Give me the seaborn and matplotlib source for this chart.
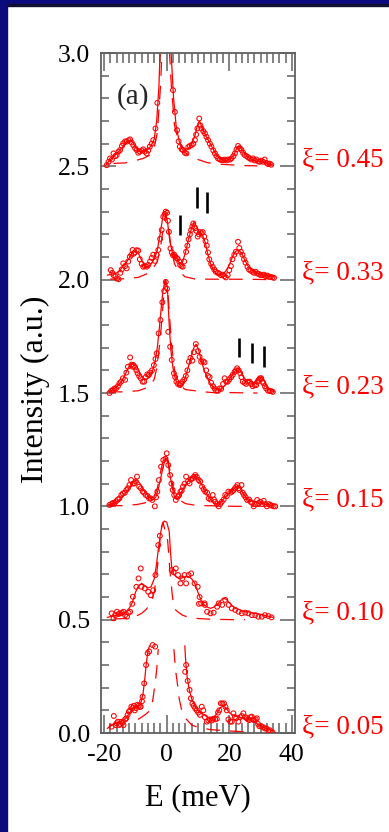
import numpy as np
import pandas as pd
import matplotlib
matplotlib.use("Agg")
import matplotlib.pyplot as plt
from matplotlib.patches import Rectangle
from matplotlib.ticker import MultipleLocator, FormatStrFormatter
import seaborn as sns

# ---------------- data ----------------
xi_labels = ["0.45", "0.33", "0.23", "0.15", "0.10", "0.05"]
offsets = [2.5, 2.0, 1.5, 1.0, 0.5, 0.0]

# xi = 0.45
E_pts_045 = [-19.2, -18.6, -18.1, -17.5, -17.0, -16.4, -16.0, -15.4, -14.9, -14.3, -13.9, -13.3, -12.8, -12.2,
             -11.7, -11.2, -10.7, -10.1, -9.6, -9.1, -8.6, -8.0, -7.5, -7.0, -6.4, -5.9, -5.4, -4.8, -4.3, -3.6,
             -3.0, 2.0, 2.6, 3.3, 3.8, 4.2, 4.8, 5.2, 5.8, 6.3, 6.9, 7.4, 8.0, 8.5, 9.0, 9.4, 9.8, 10.4, 10.8,
             11.1, 11.7, 12.2, 12.7, 13.2, 13.8, 14.3, 14.9, 15.4, 15.9, 16.4, 17.0, 17.5, 18.0, 18.5, 19.1, 19.6,
             20.2, 20.7, 21.3, 21.8, 22.3, 22.8, 23.4, 23.9, 24.4, 24.9, 25.5, 26.0, 26.5, 27.1, 27.6, 28.1, 28.7,
             29.2, 29.7, 30.3, 30.8, 31.3, 31.9, 32.4, 32.9, 33.4]
I_pts_045 = [2.505, 2.52, 2.535, 2.53, 2.557, 2.545, 2.55, 2.565, 2.572, 2.59, 2.601, 2.61, 2.609, 2.615,
             2.619, 2.605, 2.594, 2.58, 2.572, 2.56, 2.565, 2.57, 2.575, 2.565, 2.557, 2.57, 2.587, 2.60, 2.616,
             2.667, 2.78, 2.836, 2.74, 2.66, 2.61, 2.587, 2.575, 2.572, 2.56, 2.557, 2.585, 2.59, 2.594, 2.60,
             2.616, 2.64, 2.667, 2.711, 2.68, 2.667, 2.655, 2.645, 2.63, 2.616, 2.60, 2.587, 2.57, 2.557, 2.545,
             2.535, 2.53, 2.528, 2.527, 2.53, 2.526, 2.53, 2.53, 2.535, 2.545, 2.557, 2.575, 2.59, 2.58, 2.572,
             2.56, 2.55, 2.545, 2.54, 2.535, 2.53, 2.535, 2.526, 2.53, 2.522, 2.52, 2.525, 2.52, 2.53, 2.515,
             2.51, 2.512, 2.507]
E_fit_045 = [-19.5, -18.0, -16.5, -15.0, -13.5, -12.0, -11.0, -10.0, -9.0, -8.0, -7.0, -6.0, -5.0, -4.0, -3.2,
             -2.5, -2.0, -0.5, 1.2, 1.6, 2.2, 3.0, 4.0, 5.0, 6.0, 7.0, 8.0, 9.0, 10.0, 10.5, 11.5, 12.5, 13.5,
             14.5, 15.5, 16.5, 17.5, 19.0, 20.5, 21.5, 22.5, 23.0, 24.0, 25.0, 26.5, 28.0, 29.5, 31.0, 32.5, 34.0]
I_fit_045 = [2.505, 2.53, 2.55, 2.57, 2.595, 2.615, 2.61, 2.585, 2.57, 2.565, 2.57, 2.575, 2.59, 2.62, 2.70,
             2.85, 3.05, 3.4, 3.05, 2.95, 2.80, 2.68, 2.61, 2.585, 2.575, 2.58, 2.60, 2.635, 2.69, 2.70, 2.665,
             2.635, 2.61, 2.585, 2.56, 2.54, 2.53, 2.525, 2.535, 2.55, 2.585, 2.59, 2.575, 2.555, 2.535, 2.525,
             2.52, 2.52, 2.51, 2.505]
E_dash_045 = [-17.0, -13.3, -10.1, -7.5, -5.3, -4.0, -3.0, -2.0, -1.2, 0.5, 1.5, 2.5, 4.0, 5.5, 7.4, 10.0,
              12.8, 16.0, 20.0, 25.0, 29.0]
I_dash_045 = [2.513, 2.515, 2.525, 2.535, 2.55, 2.58, 2.65, 2.85, 3.1, 3.1, 2.85, 2.68, 2.60, 2.565, 2.545,
              2.53, 2.517, 2.51, 2.507, 2.503, 2.502]

# xi = 0.33
E_pts_033 = [-17.9, -17.4, -17.0, -16.4, -15.9, -15.4, -14.8, -14.4, -13.9, -13.3, -12.8, -12.3, -11.8, -11.3,
             -10.9, -10.5, -10.2, -9.6, -9.1, -8.6, -8.0, -7.5, -7.0, -6.4, -5.9, -5.3, -4.8, -4.3, -3.8, -3.2,
             -2.7, -2.1, -1.6, -1.1, -0.6, -0.3, 0.1, 0.4, 0.7, 1.2, 1.6, 2.0, 2.4, 2.8, 3.2, 3.5, 4.0, 4.3, 4.7,
             5.1, 5.6, 6.2, 6.6, 7.0, 7.4, 7.8, 8.2, 8.5, 9.1, 9.5, 9.9, 10.3, 10.6, 11.1, 11.5, 12.0, 12.4, 12.8,
             13.2, 13.6, 14.2, 14.7, 15.2, 15.7, 16.3, 16.8, 17.3, 17.9, 18.4, 18.9, 19.5, 20.0, 20.5, 21.0,
             21.6, 22.1, 22.8, 23.2, 23.7, 24.2, 24.7, 25.2, 25.8, 26.3, 26.8, 27.4, 27.9, 28.4, 29.0, 29.5,
             30.0, 30.6, 31.1, 31.6, 32.2, 32.7, 33.2, 33.8, 34.3]
I_pts_033 = [2.042, 2.03, 2.020, 2.015, 2.005, 2.002, 2.03, 2.045, 2.072, 2.06, 2.050, 2.08, 2.101, 2.11,
             2.131, 2.115, 2.12, 2.13, 2.128, 2.09, 2.07, 2.057, 2.06, 2.057, 2.065, 2.08, 2.096, 2.11, 2.083,
             2.11, 2.131, 2.18, 2.219, 2.278, 2.29, 2.30, 2.295, 2.26, 2.211, 2.138, 2.12, 2.108, 2.11, 2.101,
             2.095, 2.092, 2.08, 2.065, 2.06, 2.057, 2.08, 2.123, 2.15, 2.178, 2.20, 2.219, 2.235, 2.248, 2.227,
             2.215, 2.19, 2.20, 2.21, 2.205, 2.21, 2.19, 2.17, 2.15, 2.12, 2.09, 2.07, 2.057, 2.045, 2.035, 2.03,
             2.027, 2.02, 2.022, 2.015, 2.01, 2.02, 2.042, 2.06, 2.09, 2.11, 2.123, 2.167, 2.14, 2.123, 2.11,
             2.09, 2.075, 2.057, 2.045, 2.04, 2.035, 2.03, 2.035, 2.027, 2.025, 2.02, 2.02, 2.022, 2.015, 2.018,
             2.012, 2.012, 2.01, 2.008]
E_fit_033 = [-19.0, -17.5, -16.0, -15.0, -14.0, -13.0, -12.0, -11.0, -10.0, -9.0, -8.0, -7.0, -6.0, -5.0,
             -4.0, -3.0, -2.0, -1.2, -0.4, 0.3, 1.0, 1.8, 2.6, 3.4, 4.2, 5.0, 6.0, 7.0, 8.0, 8.7, 9.5, 10.5,
             11.5, 12.3, 13.0, 14.0, 15.0, 16.0, 17.0, 18.0, 19.0, 20.0, 21.0, 22.0, 23.0, 24.0, 25.0, 26.0,
             27.0, 28.5, 30.0, 31.5, 33.0, 34.5]
I_fit_033 = [2.02, 2.025, 2.03, 2.04, 2.06, 2.075, 2.095, 2.12, 2.125, 2.115, 2.085, 2.06, 2.055, 2.07, 2.09,
             2.13, 2.21, 2.28, 2.295, 2.25, 2.17, 2.12, 2.105, 2.09, 2.07, 2.075, 2.12, 2.18, 2.23, 2.255,
             2.235, 2.205, 2.195, 2.165, 2.12, 2.07, 2.04, 2.025, 2.02, 2.025, 2.04, 2.065, 2.10, 2.125, 2.13,
             2.115, 2.085, 2.06, 2.045, 2.03, 2.025, 2.02, 2.015, 2.012]
E_dash_033 = [-18.0, -14.5, -9.1, -6.5, -4.8, -3.0, -2.0, -1.0, -0.3, 0.5, 1.5, 2.5, 3.5, 5.8, 9.0, 14.0,
              20.0, 30.0, 33.0]
I_dash_033 = [2.003, 2.003, 2.01, 2.025, 2.04, 2.08, 2.14, 2.24, 2.29, 2.24, 2.13, 2.07, 2.045, 2.013, 2.003,
              2.002, 2.002, 2.001, 2.0]

# xi = 0.23
E_pts_023 = [-18.3, -17.7, -17.2, -16.7, -16.2, -15.6, -15.1, -14.6, -14.0, -13.3, -12.9, -12.4, -11.7, -11.3,
             -10.9, -10.5, -10.1, -9.7, -9.3, -8.8, -8.3, -7.7, -7.2, -6.7, -6.2, -5.7, -5.3, -4.7, -4.1, -3.6,
             -3.2, -2.6, -2.0, -1.4, -0.8, -0.3, 0.1, 0.5, 1.1, 1.6, 2.3, 2.7, 3.1, 3.6, 4.2, 4.6, 5.0, 5.6, 6.1,
             6.6, 7.1, 7.6, 8.2, 8.7, 9.3, 10.0, 10.5, 11.0, 11.6, 12.1, 12.6, 13.2, 13.7, 14.2, 14.8, 15.3,
             15.8, 16.4, 16.9, 17.4, 18.0, 18.5, 19.0, 19.5, 20.0, 20.6, 21.1, 21.7, 22.1, 22.5, 23.0, 23.5,
             23.9, 24.3, 24.9, 25.4, 25.9, 26.5, 27.0, 27.5, 28.1, 28.6, 29.0, 29.4, 29.8, 30.2, 30.6, 30.9,
             31.4, 31.8, 32.4, 32.9, 33.4, 33.9]
I_pts_023 = [1.50, 1.51, 1.513, 1.52, 1.52, 1.53, 1.543, 1.55, 1.565, 1.558, 1.59, 1.616, 1.657, 1.625, 1.616,
             1.62, 1.613, 1.60, 1.587, 1.575, 1.565, 1.55, 1.55, 1.57, 1.582, 1.58, 1.59, 1.60, 1.623, 1.65,
             1.675, 1.763, 1.822, 1.90, 1.95, 1.99, 1.96, 1.77, 1.704, 1.646, 1.587, 1.57, 1.55, 1.54, 1.535,
             1.54, 1.55, 1.56, 1.575, 1.60, 1.638, 1.655, 1.643, 1.68, 1.716, 1.685, 1.66, 1.638, 1.64, 1.635,
             1.60, 1.575, 1.57, 1.545, 1.53, 1.52, 1.51, 1.51, 1.52, 1.518, 1.54, 1.565, 1.55, 1.55, 1.56, 1.57,
             1.58, 1.593, 1.60, 1.609, 1.60, 1.587, 1.57, 1.55, 1.545, 1.54, 1.55, 1.55, 1.54, 1.53, 1.535,
             1.535, 1.55, 1.558, 1.565, 1.565, 1.55, 1.543, 1.53, 1.52, 1.51, 1.51, 1.508, 1.505]
E_fit_023 = [-18.5, -17.0, -15.5, -14.5, -13.5, -12.5, -11.5, -10.5, -9.5, -8.5, -7.5, -6.5, -5.5, -4.5,
             -3.7, -3.0, -2.4, -1.8, -1.2, -0.5, 0.2, 0.8, 1.4, 2.0, 2.8, 3.6, 4.4, 5.2, 6.0, 7.0, 8.0, 8.8,
             9.4, 10.2, 11.0, 12.0, 13.0, 14.0, 15.0, 16.0, 17.0, 18.0, 19.0, 20.0, 21.0, 22.0, 22.8, 23.5,
             24.5, 25.5, 26.5, 27.5, 28.5, 29.5, 30.3, 31.2, 32.2, 33.5, 34.5]
I_fit_023 = [1.505, 1.515, 1.535, 1.55, 1.575, 1.605, 1.63, 1.635, 1.615, 1.585, 1.565, 1.56, 1.57, 1.60,
             1.64, 1.70, 1.78, 1.87, 1.95, 2.0, 1.97, 1.80, 1.68, 1.61, 1.56, 1.535, 1.53, 1.54, 1.57, 1.62,
             1.67, 1.705, 1.715, 1.69, 1.645, 1.60, 1.565, 1.54, 1.525, 1.515, 1.515, 1.525, 1.54, 1.56, 1.58,
             1.60, 1.61, 1.60, 1.57, 1.555, 1.555, 1.545, 1.55, 1.565, 1.57, 1.555, 1.52, 1.51, 1.505]
E_dash_023 = [-18.5, -13.5, -9.1, -7.0, -5.4, -4.0, -3.0, -2.0, -1.0, -0.3, 0.5, 1.5, 2.5, 3.5, 5.0, 6.0,
              9.0, 12.0, 14.5, 20.0, 26.0, 29.0]
I_dash_023 = [1.505, 1.505, 1.51, 1.52, 1.53, 1.56, 1.62, 1.75, 1.92, 2.0, 1.92, 1.72, 1.60, 1.55, 1.525,
              1.515, 1.51, 1.505, 1.502, 1.502, 1.5, 1.5]

# xi = 0.15
E_pts_015 = [-18.3, -17.7, -17.2, -16.7, -16.2, -15.6, -15.1, -14.5, -14.0, -13.4, -12.9, -12.4, -11.9, -11.4,
             -10.8, -10.3, -9.9, -9.5, -8.8, -8.3, -7.7, -7.2, -6.7, -6.1, -5.6, -5.1, -4.6, -3.8, -3.4, -3.0,
             -2.5, -1.8, -1.1, -0.4, 0.0, 0.5, 1.1, 1.5, 1.9, 2.4, 2.9, 3.6, 4.0, 4.4, 4.8, 5.2, 5.7, 6.2, 6.8,
             7.3, 7.8, 8.3, 8.7, 9.1, 9.6, 10.2, 10.7, 11.3, 11.8, 12.3, 12.9, 13.4, 14.0, 14.7, 15.1, 15.5,
             16.1, 16.6, 17.1, 17.6, 18.2, 18.7, 19.2, 19.7, 20.3, 20.8, 21.3, 21.8, 22.2, 22.6, 23.0, 23.3,
             23.9, 24.3, 24.7, 25.2, 25.7, 26.3, 26.8, 27.3, 27.8, 28.4, 28.9, 29.4, 29.9, 30.5, 31.0, 31.5,
             32.0, 32.6, 33.1, 33.6, 34.2, 34.7]
I_pts_015 = [1.006, 1.01, 1.015, 1.015, 1.022, 1.03, 1.035, 1.05, 1.057, 1.06, 1.072, 1.08, 1.094, 1.116,
             1.10, 1.101, 1.11, 1.131, 1.087, 1.08, 1.065, 1.06, 1.05, 1.045, 1.035, 1.035, 1.028, 1.0, 1.04,
             1.065, 1.116, 1.175, 1.204, 1.21, 1.234, 1.182, 1.138, 1.10, 1.072, 1.05, 1.028, 1.043, 1.05,
             1.065, 1.07, 1.087, 1.10, 1.131, 1.11, 1.101, 1.12, 1.123, 1.13, 1.138, 1.13, 1.116, 1.11, 1.087,
             1.075, 1.065, 1.06, 1.035, 1.03, 1.05, 1.03, 1.02, 1.01, 1.0, 1.01, 1.02, 1.03, 1.05, 1.045, 1.065,
             1.06, 1.065, 1.07, 1.079, 1.085, 1.094, 1.08, 1.072, 1.094, 1.06, 1.05, 1.04, 1.028, 1.03, 1.02,
             1.015, 1.0, 1.01, 1.028, 1.015, 1.02, 1.01, 1.024, 1.01, 1.0, 1.01, 1.006, 1.003, 1.0, 1.0]
E_fit_015 = [-19.0, -17.5, -16.0, -15.0, -14.0, -13.0, -12.0, -11.0, -10.0, -9.5, -8.5, -7.5, -6.5, -5.5,
             -4.5, -3.5, -2.8, -2.0, -1.2, -0.4, 0.3, 1.0, 1.8, 2.6, 3.4, 4.2, 5.0, 6.0, 7.0, 8.0, 9.0, 10.0,
             11.0, 12.0, 13.0, 14.0, 15.0, 16.0, 17.0, 18.0, 19.0, 20.0, 21.0, 22.0, 22.8, 23.5, 24.5, 25.5,
             26.5, 28.0, 29.5, 31.0, 32.5, 34.0]
I_fit_015 = [1.005, 1.01, 1.02, 1.03, 1.045, 1.06, 1.08, 1.10, 1.115, 1.115, 1.10, 1.075, 1.055, 1.04, 1.03,
             1.04, 1.07, 1.12, 1.17, 1.215, 1.20, 1.14, 1.08, 1.035, 1.03, 1.05, 1.07, 1.095, 1.115, 1.13,
             1.135, 1.125, 1.10, 1.075, 1.05, 1.03, 1.015, 1.01, 1.015, 1.03, 1.045, 1.06, 1.07, 1.085, 1.09,
             1.08, 1.055, 1.035, 1.025, 1.02, 1.015, 1.01, 1.005, 1.002]
E_dash_015 = [-18.5, -14.0, -9.5, -7.0, -5.3, -4.0, -3.0, -2.0, -1.0, -0.3, 0.5, 1.5, 2.5, 3.5, 5.0, 6.0,
              9.0, 12.0, 16.0, 22.0, 28.0, 30.0]
I_dash_015 = [1.003, 1.003, 1.008, 1.015, 1.025, 1.045, 1.08, 1.15, 1.21, 1.23, 1.20, 1.12, 1.06, 1.035,
              1.02, 1.012, 1.005, 1.003, 1.002, 1.0, 1.0, 1.0]

# xi = 0.10
E_pts_010 = [-17.6, -17.0, -16.5, -15.9, -15.4, -14.9, -14.3, -13.8, -13.3, -12.7, -12.2, -11.7, -11.0,
             -10.8, -9.7, -9.0, -8.3, -8.1, -7.0, -5.9, -5.1, -4.3, -3.6, -2.7, -2.2, 1.6, 2.2, 2.9, 3.6, 4.4,
             5.0, 5.7, 6.2, 7.0, 7.8, 8.9, 9.9, 10.3, 10.5, 11.0, 12.1, 12.2, 12.9, 14.0, 15.0, 16.1, 16.6,
             17.7, 18.7, 19.8, 20.8, 21.9, 23.0, 24.0, 25.1, 26.1, 27.2, 28.3, 29.3, 30.4, 31.4, 32.5, 33.5]
I_pts_010 = [0.528, 0.506, 0.52, 0.535, 0.525, 0.528, 0.53, 0.535, 0.52, 0.513, 0.53, 0.535, 0.57, 0.601,
             0.645, 0.682, 0.726, 0.645, 0.638, 0.623, 0.608, 0.63, 0.697, 0.829, 0.87, 0.719, 0.71, 0.726,
             0.697, 0.66, 0.682, 0.697, 0.66, 0.697, 0.704, 0.66, 0.645, 0.57, 0.60, 0.572, 0.572, 0.565, 0.535,
             0.528, 0.531, 0.557, 0.572, 0.565, 0.587, 0.565, 0.55, 0.543, 0.535, 0.528, 0.531, 0.528, 0.52,
             0.52, 0.513, 0.513, 0.52, 0.516, 0.51]
E_fit_010 = [-19.0, -17.5, -16.0, -14.5, -13.0, -12.0, -11.0, -10.0, -9.0, -8.0, -7.0, -6.0, -5.0, -4.0,
             -3.3, -2.6, -2.0, -1.4, -0.8, 0.0, 0.8, 1.2, 1.6, 2.2, 3.0, 4.0, 5.0, 6.0, 7.0, 8.0, 9.0, 10.0,
             11.0, 12.0, 13.0, 14.0, 15.0, 16.0, 17.0, 18.0, 19.0, 20.0, 21.0, 22.0, 23.0, 24.0, 25.0, 26.0,
             27.0, 28.0, 29.5, 31.0, 32.5, 34.0]
I_fit_010 = [0.51, 0.515, 0.52, 0.525, 0.535, 0.55, 0.575, 0.62, 0.65, 0.66, 0.65, 0.64, 0.645, 0.68, 0.74,
             0.82, 0.88, 0.92, 0.935, 0.93, 0.89, 0.80, 0.73, 0.70, 0.69, 0.68, 0.685, 0.69, 0.69, 0.68, 0.66,
             0.62, 0.585, 0.565, 0.555, 0.55, 0.555, 0.565, 0.58, 0.595, 0.59, 0.575, 0.56, 0.55, 0.545, 0.54,
             0.535, 0.535, 0.53, 0.528, 0.525, 0.52, 0.515, 0.51]
E_dash_010 = [-17.0, -13.0, -10.2, -8.0, -6.5, -5.0, -4.0, -3.2, -2.5, -1.8, -1.2, 0.3, 1.0, 1.7, 2.3,
              3.5, 5.0, 7.1, 10.0, 13.9, 21.3, 25.0]
I_dash_010 = [0.503, 0.505, 0.513, 0.528, 0.546, 0.575, 0.62, 0.70, 0.80, 0.90, 0.93, 0.85, 0.72, 0.62,
              0.55, 0.535, 0.52, 0.51, 0.505, 0.502, 0.5, 0.5]

# xi = 0.05 (central region cut off)
E_pts_005 = [-17.6, -16.9, -16.4, -16.0, -15.6, -15.2, -14.9, -14.5, -14.1, -13.8, -13.3, -12.9, -12.5,
             -12.1, -11.7, -11.3, -10.9, -10.5, -10.2, -9.8, -9.4, -9.0, -8.6, -8.3, -7.9, -7.7, -7.2, -6.6,
             -6.1, -5.6, -4.5, -3.7, 5.9, 6.2, 6.7, 7.3, 7.7, 8.2, 8.6, 9.1, 9.6, 10.1, 10.6, 11.2, 11.7, 12.2,
             12.8, 13.3, 13.8, 14.4, 14.9, 15.5, 16.0, 16.4, 16.8, 17.3, 17.8, 18.3, 18.8, 19.2, 19.7, 20.3,
             20.8, 21.3, 21.8, 22.2, 22.9, 23.5, 24.0, 24.5, 25.1, 25.6, 26.0, 26.4, 26.8, 27.2, 27.6, 27.9,
             28.4, 28.8, 29.2, 29.6, 30.2, 30.9, 31.4, 31.9, 32.5, 33.0, 33.8]
I_pts_005 = [0.028, 0.075, 0.035, 0.043, 0.05, 0.035, 0.04, 0.05, 0.045, 0.035, 0.06, 0.065, 0.08, 0.094,
             0.10, 0.116, 0.11, 0.12, 0.10, 0.11, 0.125, 0.12, 0.115, 0.116, 0.14, 0.16, 0.219, 0.30, 0.352,
             0.36, 0.388, 0.381, 0.27, 0.30, 0.23, 0.19, 0.153, 0.13, 0.12, 0.109, 0.10, 0.09, 0.08, 0.116,
             0.10, 0.07, 0.05, 0.055, 0.06, 0.055, 0.063, 0.06, 0.063, 0.09, 0.10, 0.131, 0.13, 0.131, 0.115,
             0.10, 0.06, 0.05, 0.05, 0.087, 0.07, 0.065, 0.05, 0.07, 0.075, 0.087, 0.07, 0.065, 0.06, 0.057,
             0.07, 0.072, 0.06, 0.057, 0.06, 0.065, 0.04, 0.03, 0.03, 0.025, 0.02, 0.02, 0.01, 0.012, 0.003]
E_fit_005_left = [-19.0, -17.5, -16.0, -14.5, -13.0, -12.0, -11.0, -10.0, -9.0, -8.3, -7.6, -7.0, -6.5,
                  -6.0, -5.5]
I_fit_005_left = [0.02, 0.035, 0.045, 0.05, 0.065, 0.085, 0.105, 0.115, 0.12, 0.13, 0.17, 0.24, 0.31, 0.36,
                  0.385]
E_fit_005_right = [5.8, 6.0, 6.5, 7.2, 8.0, 9.0, 10.0, 11.0, 12.0, 13.0, 14.0, 15.0, 16.0, 17.0, 18.0, 19.0,
                   20.0, 21.0, 22.0, 23.0, 24.0, 25.0, 26.0, 27.0, 28.0, 29.0, 30.0, 31.0, 32.5, 34.0]
I_fit_005_right = [0.385, 0.33, 0.25, 0.19, 0.15, 0.12, 0.10, 0.09, 0.08, 0.07, 0.065, 0.07, 0.085, 0.11,
                   0.12, 0.11, 0.09, 0.08, 0.075, 0.07, 0.068, 0.062, 0.06, 0.055, 0.05, 0.04, 0.03, 0.025,
                   0.015, 0.01]
E_dash_005_left = [-9.2, -8.0, -6.5, -5.3, -4.5, -3.7, -3.2, -2.7]
I_dash_005_left = [0.06, 0.07, 0.085, 0.10, 0.14, 0.22, 0.28, 0.37]
E_dash_005_right = [2.3, 2.8, 3.4, 4.0, 4.8, 6.0, 8.0, 10.0, 14.0, 19.0, 25.0, 28.0]
I_dash_005_right = [0.37, 0.28, 0.22, 0.15, 0.10, 0.065, 0.035, 0.025, 0.015, 0.01, 0.005, 0.004]

# black peak markers
bar_E = [4.3, 9.6, 12.8, 23.1, 27.2, 31.1]
bar_lo = [2.197, 2.314, 2.295, 1.657, 1.631, 1.616]
bar_hi = [2.285, 2.407, 2.388, 1.741, 1.722, 1.707]

# ---------------- assemble tables ----------------
pts = pd.concat([
    pd.DataFrame({"E": E_pts_045, "I": I_pts_045}),
    pd.DataFrame({"E": E_pts_033, "I": I_pts_033}),
    pd.DataFrame({"E": E_pts_023, "I": I_pts_023}),
    pd.DataFrame({"E": E_pts_015, "I": I_pts_015}),
    pd.DataFrame({"E": E_pts_010, "I": I_pts_010}),
    pd.DataFrame({"E": E_pts_005, "I": I_pts_005}),
], ignore_index=True)

def seg(E, I, name):
    return pd.DataFrame({"E": E, "I": I, "seg": name})

fits = pd.concat([
    seg(E_fit_045, I_fit_045, "f045"), seg(E_fit_033, I_fit_033, "f033"),
    seg(E_fit_023, I_fit_023, "f023"), seg(E_fit_015, I_fit_015, "f015"),
    seg(E_fit_010, I_fit_010, "f010"), seg(E_fit_005_left, I_fit_005_left, "f005a"),
    seg(E_fit_005_right, I_fit_005_right, "f005b"),
], ignore_index=True)

dashes = pd.concat([
    seg(E_dash_045, I_dash_045, "d045"), seg(E_dash_033, I_dash_033, "d033"),
    seg(E_dash_023, I_dash_023, "d023"), seg(E_dash_015, I_dash_015, "d015"),
    seg(E_dash_010, I_dash_010, "d010"), seg(E_dash_005_left, I_dash_005_left, "d005a"),
    seg(E_dash_005_right, I_dash_005_right, "d005b"),
], ignore_index=True)

# ---------------- figure ----------------
sns.set_theme(style="ticks")
plt.rcParams["font.family"] = ["Liberation Serif", "DejaVu Serif"]
plt.rcParams["axes.unicode_minus"] = False

W, H = 389, 832
fig = plt.figure(figsize=(W / 100, H / 100), dpi=100, facecolor="white")
ax = fig.add_axes([101 / W, 1 - 733 / H, 194 / W, 680 / H])
ax.set_facecolor("white")

RED = "#ff0000"
sns.lineplot(data=dashes, x="E", y="I", units="seg", estimator=None, sort=False, ax=ax,
             color=RED, lw=0.9, linestyle=(0, (11, 8)))
sns.lineplot(data=fits, x="E", y="I", units="seg", estimator=None, sort=False, ax=ax,
             color=RED, lw=0.9)
sns.scatterplot(data=pts, x="E", y="I", ax=ax, marker="o", s=12, facecolor="none",
                edgecolor=RED, linewidth=0.75, zorder=3)
ax.vlines(bar_E, bar_lo, bar_hi, colors="black", lw=1.9, zorder=4)

ax.set_xlim(-21, 41)
ax.set_ylim(0.0, 3.0)
ax.xaxis.set_major_locator(MultipleLocator(20))
ax.xaxis.set_minor_locator(MultipleLocator(2))
ax.yaxis.set_major_locator(MultipleLocator(0.5))
ax.yaxis.set_minor_locator(MultipleLocator(0.1))
ax.yaxis.set_major_formatter(FormatStrFormatter("%.1f"))

SPINE = "#606060"
for s in ax.spines.values():
    s.set_color(SPINE)
    s.set_linewidth(1.3)
    s.set_visible(True)
ax.tick_params(which="both", direction="in", top=True, right=True, color=SPINE,
               labelsize=18.5, labelcolor="black", width=1.1, pad=8)
ax.tick_params(axis="x", which="major", length=13)
ax.tick_params(axis="x", which="minor", length=7)
ax.tick_params(axis="y", which="major", length=11)
ax.tick_params(axis="y", which="minor", length=6)

ax.set_xlabel("E (meV)", fontsize=22, color="black")
ax.set_ylabel("Intensity (a.u.)", fontsize=23, color="black")
ax.xaxis.set_label_coords(0.5, -0.074)
ax.yaxis.set_label_coords(-0.265, 0.505)

ax.text(0.08, 0.926, "(a)", transform=ax.transAxes, fontsize=21, va="baseline", ha="left")

for lab, off in zip(xi_labels, offsets):
    ax.annotate("ξ= " + lab, xy=(1, off), xycoords=("axes fraction", "data"),
                xytext=(5, 0), textcoords="offset points", va="baseline", ha="left",
                fontsize=19.5, color=RED, annotation_clip=False)

# slide background edges
fig.patches.append(Rectangle((0, 0), 7 / W, 1, transform=fig.transFigure, color="#0b0b7e", zorder=-1))
fig.patches.append(Rectangle((0, 1 - 4 / H), 1, 4 / H, transform=fig.transFigure, color="#0b0b7e", zorder=-1))
fig.patches.append(Rectangle((7 / W, 1 - 6 / H), 1, 2 / H, transform=fig.transFigure, color="#101030", zorder=-1))

fig.savefig("out.png", dpi=100, facecolor="white")
